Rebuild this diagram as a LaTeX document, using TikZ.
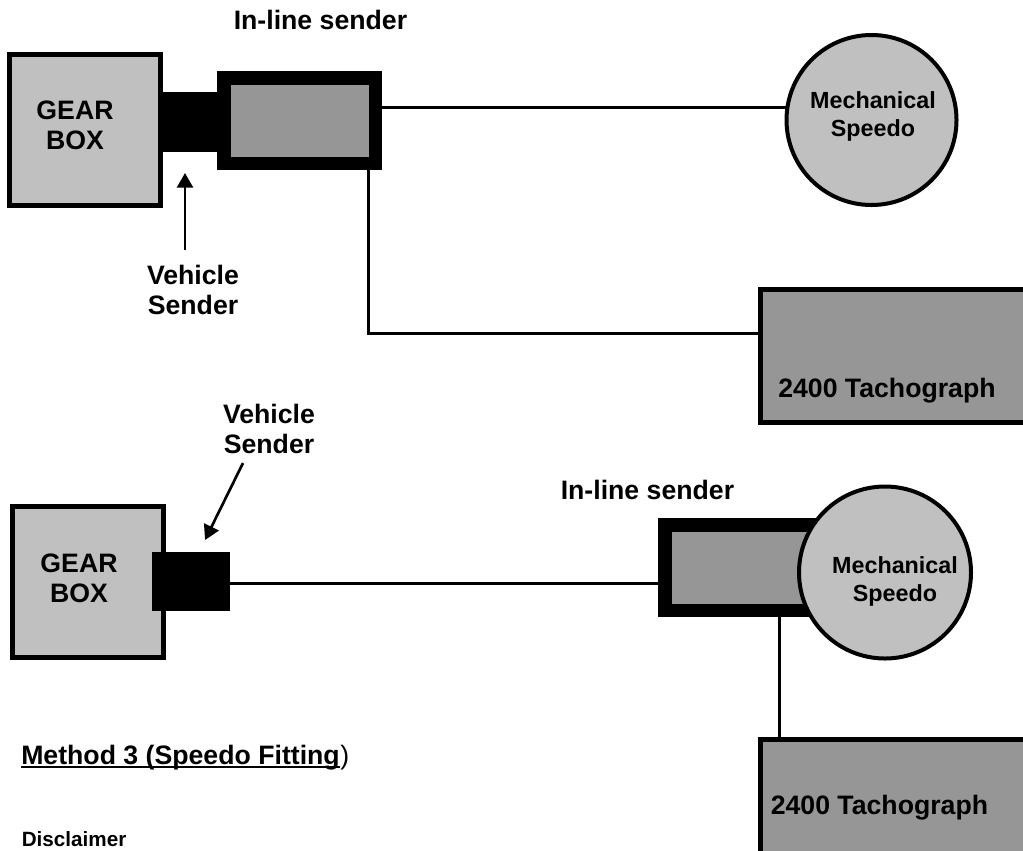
\documentclass[tikz,border=0pt]{standalone}
\usepackage{fontspec}
\setmainfont{Liberation Sans}
\usetikzlibrary{arrows.meta}
\pgfdeclarelayer{bg}
\pgfsetlayers{bg,main}
\newcommand\pxu{0.75pt}
\definecolor{lgray}{HTML}{C0C0C0}
\definecolor{mgray}{HTML}{969696}
\tikzset{
 gearbox/.style={draw=black, fill=lgray, line width=3.75pt, minimum width=151*\pxu, minimum height=151*\pxu, inner sep=0pt},
 blackblock/.style={fill=black, inner sep=0pt, outer sep=0pt},
 inline/.style={draw=black, fill=mgray, line width=10.125pt, inner sep=0pt},
 speedo/.style={circle, draw=black, fill=lgray, line width=3pt, inner sep=0pt},
 tacho/.style={draw=black, fill=mgray, line width=3.75pt, inner sep=0pt},
 lbl/.style={font=\bfseries\fontsize{20pt}{22.5pt}\selectfont, inner sep=0pt, align=center},
 lblw/.style={font=\bfseries\fontsize{20pt}{22.5pt}\selectfont, inner sep=0pt, anchor=base west},
 splbl/.style={font=\bfseries\fontsize{17.5pt}{21pt}\selectfont, inner sep=0pt, align=center},
 wire/.style={line width=2.25pt},
 pointer/.style={line width=2pt, -{Triangle[width=12pt,length=11pt]}},
}
\begin{document}
\begin{tikzpicture}[x=\pxu, y=-\pxu]
\useasboundingbox (0,0) rectangle (1023,850);
\clip (0,0) rectangle (1023,850);
% ---------- top arrangement ----------
\node[gearbox] (gb1) at (85,130) {};
\node[blackblock, minimum width=55*\pxu, minimum height=60*\pxu] (blk1) at (190.5,122) {};
\node[inline, minimum width=151.5*\pxu, minimum height=85.5*\pxu] (ils1) at (299.5,120.5) {};
\node[speedo, minimum size=170*\pxu] (sp1) at (871.5,120) {};
\node[tacho, minimum width=282*\pxu, minimum height=133*\pxu] (ta1) at (901.5,356) {};
% ---------- bottom arrangement ----------
\node[gearbox] (gb2) at (88,582) {};
\node[blackblock, minimum width=78*\pxu, minimum height=59*\pxu] (blk2) at (191,581.5) {};
\node[inline, minimum width=158.5*\pxu, minimum height=85.5*\pxu] (ils2) at (744,567.5) {};
\node[speedo, minimum size=172*\pxu] (sp2) at (885,572.5) {};
\node[tacho, minimum width=282*\pxu, minimum height=138*\pxu] (ta2) at (901.5,808.5) {};
% ---------- connectors ----------
\coordinate (h1) at (0,107);
\coordinate (v1) at (368,0);
\coordinate (h1b) at (0,333);
\coordinate (h2) at (0,583);
\coordinate (v2) at (779,0);
\begin{pgfonlayer}{bg}
\draw[wire] (ils1.center |- h1) -- (sp1.center |- h1);
\draw[wire] (ils1.center -| v1) |- (ta1.center |- h1b);
\draw[wire] (blk2.center |- h2) -- (ils2.center |- h2);
\draw[wire] (ils2.center -| v2) -- (ta2.center -| v2);
\end{pgfonlayer}
% ---------- labels ----------
\node[lbl] (gb1t) at (75,125) {GEAR\\BOX};
\node[lbl] (vs1t) at (193,290) {Vehicle\\Sender};
\node[lblw] (il1t) at (233.5,29) {In-line sender};
\node[splbl] (sp1t) at (873,116) {Mechanical\\Speedo};
\node[lblw] (ta1t) at (778,397) {2400 Tachograph};
\node[lbl] (gb2t) at (79,578) {GEAR\\BOX};
\node[lbl] (vs2t) at (269,428.5) {Vehicle\\Sender};
\node[lblw] (il2t) at (560.5,499) {In-line sender};
\node[splbl] (sp2t) at (895,581) {Mechanical\\Speedo};
\node[lblw] (ta2t) at (770.5,814) {2400 Tachograph};
\node[lblw] (m3) at (21,764) {Method 3 (Speedo Fitting};
\node[font=\fontsize{20pt}{22.5pt}\selectfont, inner sep=0pt, anchor=base west] (m3p) at (m3.base east) {)};
\draw[line width=1.5pt] ([yshift=-2.4pt]m3.base west) -- ([yshift=-2.4pt]m3.base east);
\node[font=\bfseries\fontsize{15.5pt}{18pt}\selectfont, inner sep=0pt, anchor=base west] (disc) at (21.5,846) {Disclaimer};
% ---------- pointers ----------
\coordinate (a1s) at (185,250);
\coordinate (a1e) at (185,173);
\draw[pointer] (a1s) -- (a1e);
\coordinate (a2s) at (243,463);
\coordinate (a2e) at (205,540);
\draw[pointer] (a2s) -- (a2e);
\end{tikzpicture}
\end{document}
